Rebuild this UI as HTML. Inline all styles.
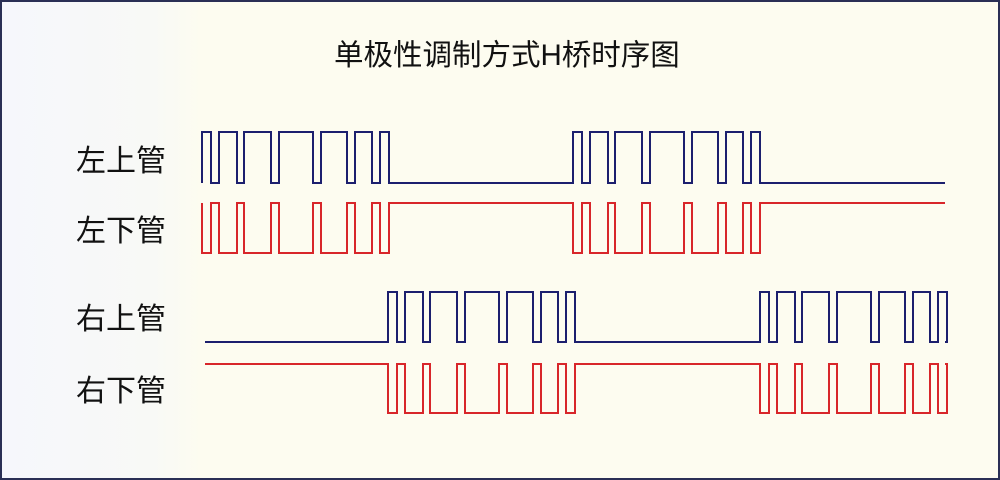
<!DOCTYPE html>
<html><head><meta charset="utf-8"><style>
html,body{margin:0;padding:0}
body{width:1000px;height:480px;overflow:hidden;background:#fdfcf0}
#c{position:absolute;left:0;top:0;width:996px;height:476px;border:2px solid #2a2f55;background:linear-gradient(90deg,#f6f7fc 0,#f8f9f6 150px,#fdfcf0 200px)}
.t{position:absolute;font-family:"Liberation Sans","Noto Sans CJK SC",sans-serif;color:#111;white-space:nowrap}
</style></head><body>
<div id="c"></div>
<div class="t" style="left:334px;top:32px;font-size:29.5px">单极性调制方式H桥时序图</div>
<div class="t" style="left:76px;top:136px;font-size:30px">左上管</div>
<div class="t" style="left:76px;top:206px;font-size:30px">左下管</div>
<div class="t" style="left:76px;top:294px;font-size:30px">右上管</div>
<div class="t" style="left:76px;top:366px;font-size:30px">右下管</div>
<svg id="s" width="1000" height="480" style="position:absolute;left:0;top:0" xmlns="http://www.w3.org/2000/svg"></svg>
<script>
var p=[0,9,17,35,42,69,77,111,119,145,153,170,178,187];
function wave(H,L,startHigh,bursts,color){
 var base=startHigh?H:L; var sx=Math.min(205,bursts[0]); var d="M"+sx+" "+base;
 bursts.forEach(function(o){
  d+=" L"+o+" "+base;
  var lvl=base;
  for(var i=0;i<p.length;i++){
   var nx=o+p[i]; d+=" L"+nx+" "+lvl; lvl=(lvl==H)?L:H; d+=" L"+nx+" "+lvl;
  }
 });
 d+=" L945 "+base;
 var s=document.getElementById("s");
 s.innerHTML+='<path d="'+d+'" fill="none" stroke="'+color+'" stroke-width="2"/>';
}
wave(132,183,false,[202,573],"#1c1f6e");
wave(203,253,true,[202,573],"#d8262a");
wave(292,342,false,[388,760],"#1c1f6e");
wave(364,413,true,[388,760],"#d8262a");
</script>
</body></html>
